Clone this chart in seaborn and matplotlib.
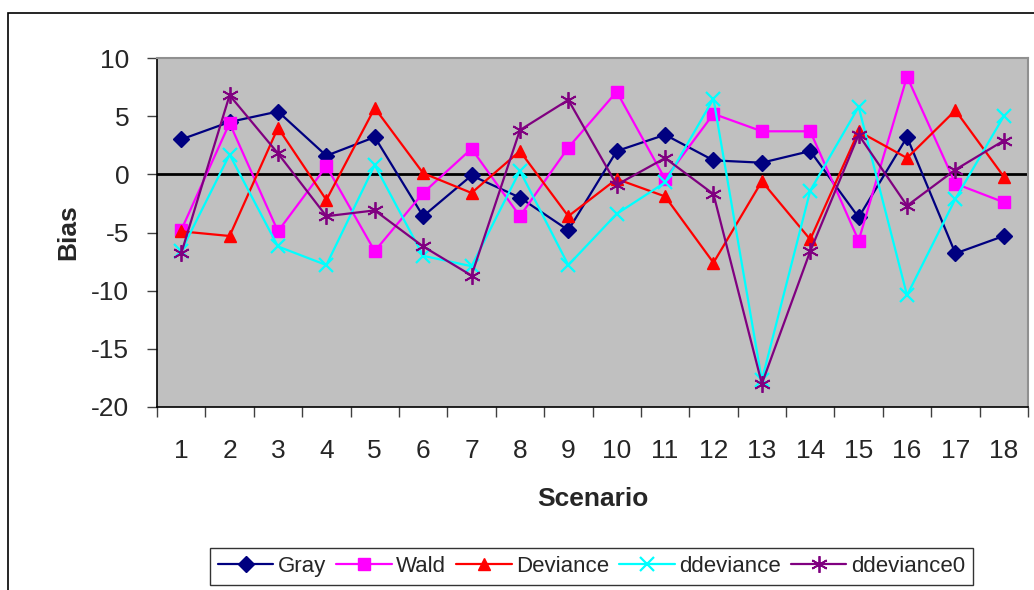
import matplotlib
matplotlib.use("Agg")
import matplotlib.pyplot as plt
from matplotlib.patches import Rectangle
from matplotlib.ticker import FixedLocator
import numpy as np
import pandas as pd
import seaborn as sns

scenarios = list(range(1, 19))
gray = [3.0, 4.5, 5.4, 1.6, 3.2, -3.6, -0.1, -2.0, -4.8, 2.0, 3.4, 1.2,
        1.0, 2.0, -3.7, 3.2, -6.8, -5.3]
wald = [-4.8, 4.4, -4.9, 0.7, -6.6, -1.6, 2.2, -3.6, 2.3, 7.1, -0.4, 5.2,
        3.7, 3.7, -5.7, 8.4, -0.8, -2.4]
deviance = [-4.9, -5.3, 4.0, -2.2, 5.7, 0.1, -1.6, 2.0, -3.6, -0.4, -1.9, -7.6,
            -0.6, -5.6, 3.7, 1.4, 5.5, -0.2]
ddeviance = [-6.6, 1.7, -6.2, -7.8, 0.8, -7.0, -7.9, 0.3, -7.8, -3.4, -0.7, 6.5,
             -17.7, -1.4, 5.8, -10.4, -2.1, 5.0]
ddeviance0 = [-6.8, 6.8, 1.8, -3.6, -3.1, -6.2, -8.7, 3.8, 6.4, -0.9, 1.4, -1.7,
              -18.0, -6.6, 3.4, -2.7, 0.4, 2.9]

series_names = ["Gray", "Wald", "Deviance", "ddeviance", "ddeviance0"]
series_values = [gray, wald, deviance, ddeviance, ddeviance0]
colors = ["#000080", "#FF00FF", "#FF0000", "#00FFFF", "#800080"]
marker_styles = ["D", "s", "^", "x", (6, 2, 0)]
marker_sizes = [8, 8, 9, 10, 12]
marker_edge = [1.0, 1.0, 1.0, 1.6, 1.3]

df = pd.DataFrame({
    "Scenario": np.tile(scenarios, len(series_names)),
    "Bias": np.concatenate(series_values),
    "Method": np.repeat(series_names, len(scenarios)),
})

sns.set_style("white")
plt.rcParams["font.family"] = ["Liberation Sans", "DejaVu Sans"]
plt.rcParams["axes.unicode_minus"] = False

fig = plt.figure(figsize=(10.34, 5.90), dpi=100)
ax = fig.add_axes([157 / 1034, 1 - 407 / 590, (1028 - 157) / 1034, (407 - 58) / 590])
ax.set_facecolor("#C0C0C0")

for name, col, mk, ms, mew in zip(series_names, colors, marker_styles, marker_sizes, marker_edge):
    sub = df[df["Method"] == name]
    sns.lineplot(data=sub, x="Scenario", y="Bias", ax=ax, color=col, marker=mk,
                 markersize=ms, markeredgecolor=col, markeredgewidth=mew,
                 linewidth=1.6, label=name, estimator=None, sort=False, zorder=3)

ax.axhline(0, color="black", linewidth=2, zorder=2)

ax.set_xlim(0.5, 18.5)
ax.set_ylim(-20, 10)
ax.set_yticks(np.arange(-20, 11, 5))
ax.set_xticks(scenarios)
ax.set_xticklabels([str(s) for s in scenarios])
ax.xaxis.set_minor_locator(FixedLocator(np.arange(0.5, 18.6, 1)))
ax.tick_params(axis="x", which="major", length=0, labelsize=19, pad=23)
ax.tick_params(axis="x", which="minor", length=7, width=1, color="#404040", direction="out", bottom=True)
ax.tick_params(axis="y", which="major", length=7, width=1, color="#404040", direction="out",
               labelsize=19, pad=13, left=True)

ax.set_xlabel("Scenario", fontsize=19, fontweight="bold", labelpad=17)
ax.set_ylabel("Bias", fontsize=19, fontweight="bold", labelpad=8)

for side in ("left", "bottom"):
    ax.spines[side].set_color("#000000")
    ax.spines[side].set_linewidth(1.2)
for side in ("top", "right"):
    ax.spines[side].set_color("#909090")
    ax.spines[side].set_linewidth(1.5)

ax.get_legend().remove()
handles, labels = ax.get_legend_handles_labels()
leg = fig.legend(handles, labels, loc="upper left",
                 bbox_to_anchor=(210 / 1034, 1 - 548 / 590), ncol=5, frameon=True,
                 fancybox=False, edgecolor="black", fontsize=16, handlelength=2.5,
                 handletextpad=0.2, columnspacing=0.45, borderpad=0.35, borderaxespad=0)
leg.get_frame().set_linewidth(1.0)

# outer chart frame
fig.patches.append(Rectangle((8 / 1034, -0.05), 1.1, 1 - 13 / 590 + 0.05,
                             transform=fig.transFigure, fill=False,
                             edgecolor="black", linewidth=1.2))

fig.savefig("out.png", dpi=100)
